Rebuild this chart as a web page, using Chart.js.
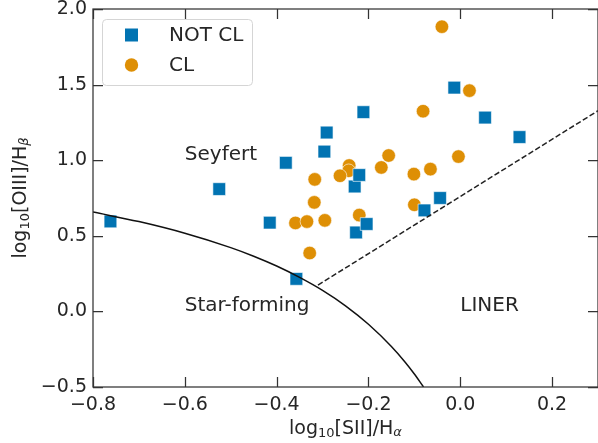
<!DOCTYPE html>
<html>
<head>
<meta charset="utf-8">
<script src="https://cdn.jsdelivr.net/npm/chart.js@4"></script>
<style>
  body { margin: 0; background: #fff; }
  canvas { display: block; }
</style>
</head>
<body>
<canvas id="bpt" width="598" height="443"></canvas>
<script>
// log10 [SII]/Halpha and log10 [OIII]/Hbeta per source
const notClX = [-0.762, -0.525, -0.415, -0.380, -0.357, -0.296, -0.291, -0.211, -0.230, -0.220, -0.227, -0.204, -0.044, -0.078, -0.013, 0.054, 0.129];
const notClY = [0.595, 0.809, 0.587, 0.983, 0.215, 1.057, 1.183, 1.318, 0.826, 0.902, 0.522, 0.578, 0.750, 0.668, 1.480, 1.282, 1.153];

const clX = [-0.040, 0.020, -0.081, -0.156, -0.172, -0.242, -0.243, -0.262, -0.317, -0.101, -0.065, -0.004, -0.318, -0.359, -0.334, -0.295, -0.328, -0.220, -0.100];
const clY = [1.883, 1.460, 1.324, 1.031, 0.952, 0.965, 0.930, 0.897, 0.873, 0.908, 0.941, 1.024, 0.721, 0.585, 0.594, 0.602, 0.386, 0.637, 0.705];

// Kewley max starburst line (sampled)
const kewleyX = [-0.80, -0.70, -0.60, -0.50, -0.45, -0.40, -0.35, -0.30, -0.25, -0.20, -0.15, -0.12, -0.10, -0.08];
const kewleyY = [0.657, 0.594, 0.517, 0.422, 0.365, 0.300, 0.225, 0.139, 0.037, -0.085, -0.232, -0.336, -0.414, -0.500];

// Seyfert / LINER division
const divX = [-0.31, 0.30];
const divY = [0.174, 1.327];

const xTicks = [-0.8, -0.6, -0.4, -0.2, 0.0, 0.2];
const yTicks = [-0.5, 0.0, 0.5, 1.0, 1.5, 2.0];

const regions = [
  { text: 'Seyfert', x: -0.6, y: 1.0 },
  { text: 'Star-forming', x: -0.6, y: 0.0 },
  { text: 'LINER', x: 0.0, y: 0.0 }
];

const BLUE = '#0173b2';
const ORANGE = '#de8f05';
const INK = '#262626';
const FONT = '"DejaVu Sans", sans-serif';

const pts = (xs, ys) => xs.map((x, i) => ({ x: x, y: ys[i] }));
const fmt = v => v.toFixed(1).replace('-', '\u2212');

// text with subscripts, centred on x
function richText(ctx, parts, x, y) {
  let w = 0;
  parts.forEach(p => {
    ctx.font = (p.italic ? 'italic ' : '') + p.size + 'px ' + FONT;
    p.w = ctx.measureText(p.t).width;
    w += p.w;
  });
  let cx = x - w / 2;
  ctx.textAlign = 'left';
  ctx.textBaseline = 'alphabetic';
  parts.forEach(p => {
    ctx.font = (p.italic ? 'italic ' : '') + p.size + 'px ' + FONT;
    ctx.fillText(p.t, cx, y + (p.dy || 0));
    cx += p.w;
  });
}

// no extra room for overflowing tick labels
function noPad(s) {
  s.paddingTop = 0; s.paddingBottom = 0;
  s.paddingLeft = 0; s.paddingRight = 0;
}

const decorations = {
  id: 'decorations',
  afterDraw(chart) {
    const ctx = chart.ctx;
    const a = chart.chartArea;
    const xs = chart.scales.x, ys = chart.scales.y;
    ctx.save();

    // spines
    ctx.strokeStyle = '#333';
    ctx.lineWidth = 1.25;
    ctx.strokeRect(a.left, a.top, a.right - a.left, a.bottom - a.top);

    // inward ticks on all four sides
    const tl = 10;
    ctx.beginPath();
    xTicks.forEach(v => {
      const px = Math.round(xs.getPixelForValue(v)) + 0.5;
      ctx.moveTo(px, a.bottom); ctx.lineTo(px, a.bottom - tl);
      ctx.moveTo(px, a.top); ctx.lineTo(px, a.top + tl);
    });
    yTicks.forEach(v => {
      const py = Math.round(ys.getPixelForValue(v)) + 0.5;
      ctx.moveTo(a.left, py); ctx.lineTo(a.left + tl, py);
      ctx.moveTo(a.right, py); ctx.lineTo(a.right - tl, py);
    });
    ctx.stroke();

    // region names
    ctx.fillStyle = INK;
    ctx.font = '20px ' + FONT;
    ctx.textAlign = 'left';
    ctx.textBaseline = 'alphabetic';
    regions.forEach(r => {
      ctx.fillText(r.text, xs.getPixelForValue(r.x), ys.getPixelForValue(r.y));
    });

    // legend
    const lx = a.left + 9, ly = a.top + 10, lw = 150, lh = 66;
    ctx.beginPath();
    ctx.roundRect(lx + 0.5, ly + 0.5, lw, lh, 4);
    ctx.fillStyle = 'rgba(255,255,255,0.8)';
    ctx.fill();
    ctx.strokeStyle = '#d5d5d5';
    ctx.lineWidth = 1;
    ctx.stroke();
    chart.data.datasets.filter(d => d.inLegend).forEach((d, i) => {
      const my = ly + 16 + i * 30;
      ctx.fillStyle = d.backgroundColor;
      ctx.beginPath();
      if (d.pointStyle === 'rect') {
        ctx.rect(lx + 23, my - 6.5, 13, 13);
      } else {
        ctx.arc(lx + 29.5, my, 6.7, 0, Math.PI * 2);
      }
      ctx.fill();
      ctx.fillStyle = INK;
      ctx.font = '20px ' + FONT;
      ctx.textBaseline = 'middle';
      ctx.fillText(d.label, lx + 67, my + 1);
    });

    // axis titles
    ctx.fillStyle = INK;
    richText(ctx, [
      { t: 'log', size: 19 },
      { t: '10', size: 13, dy: 3 },
      { t: '[SII]/H', size: 19 },
      { t: '\u03b1', size: 13, dy: 2, italic: true }
    ], (a.left + a.right) / 2, 434);

    ctx.translate(26, (a.top + a.bottom) / 2);
    ctx.rotate(-Math.PI / 2);
    richText(ctx, [
      { t: 'log', size: 19 },
      { t: '10', size: 13, dy: 3 },
      { t: '[OIII]/H', size: 19 },
      { t: '\u03b2', size: 13, dy: 2, italic: true }
    ], 0, 0);

    ctx.restore();
  }
};

new Chart(document.getElementById('bpt'), {
  type: 'scatter',
  data: {
    datasets: [
      {
        type: 'line',
        data: pts(kewleyX, kewleyY),
        borderColor: '#111',
        borderWidth: 1.5,
        pointRadius: 0,
        cubicInterpolationMode: 'monotone',
        fill: false
      },
      {
        type: 'line',
        data: pts(divX, divY),
        borderColor: '#222',
        borderWidth: 1.5,
        borderDash: [5.5, 2.5],
        pointRadius: 0,
        fill: false
      },
      {
        label: 'NOT CL',
        inLegend: true,
        data: pts(notClX, notClY),
        pointStyle: 'rect',
        pointRadius: 9,
        backgroundColor: BLUE,
        borderColor: '#fff',
        borderWidth: 0.6
      },
      {
        label: 'CL',
        inLegend: true,
        data: pts(clX, clY),
        pointStyle: 'circle',
        pointRadius: 6.8,
        backgroundColor: ORANGE,
        borderColor: '#fff',
        borderWidth: 0.6
      }
    ]
  },
  options: {
    responsive: false,
    animation: false,
    devicePixelRatio: 1,
    layout: { autoPadding: false, padding: { top: 9, right: 0, left: 0, bottom: 0 } },
    plugins: {
      legend: { display: false },
      tooltip: { enabled: false }
    },
    scales: {
      x: {
        type: 'linear',
        min: -0.8,
        max: 0.3,
        grid: { display: false, drawTicks: false },
        border: { display: false },
        afterBuildTicks: s => { s.ticks = xTicks.map(v => ({ value: v })); },
        afterFit: s => { s.height = 56; noPad(s); },
        ticks: {
          color: INK,
          padding: 7,
          font: { family: FONT, size: 19 },
          callback: v => fmt(v)
        }
      },
      y: {
        type: 'linear',
        min: -0.5,
        max: 2.0,
        grid: { display: false, drawTicks: false },
        border: { display: false },
        afterBuildTicks: s => { s.ticks = yTicks.map(v => ({ value: v })); },
        afterFit: s => { s.width = 93; noPad(s); },
        ticks: {
          color: INK,
          padding: 6,
          font: { family: FONT, size: 19 },
          callback: v => fmt(v)
        }
      }
    }
  },
  plugins: [decorations]
});
</script>
</body>
</html>
